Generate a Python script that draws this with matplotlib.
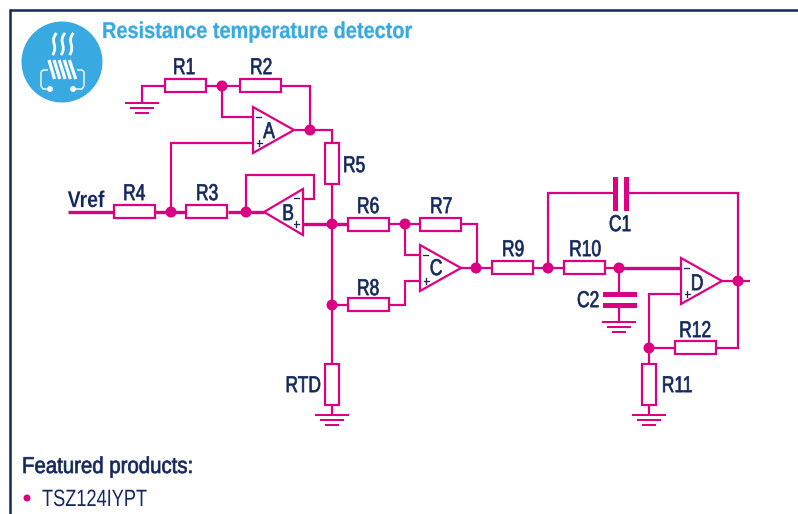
import matplotlib
matplotlib.use('Agg')
import matplotlib.pyplot as plt
import matplotlib.patheffects as pe
from matplotlib.patches import Circle, Polygon, Rectangle, PathPatch
from matplotlib.path import Path

pink = '#db0082'
navy = '#14285c'
blue = '#39a9e1'

title = 'Resistance temperature detector'
heading = 'Featured products:'
products = ['TSZ124IYPT']

# name, left, top, horizontal?
resistors = [('R1', 165, 79, True), ('R2', 240, 79, True), ('R3', 186, 205, True),
             ('R4', 114, 205, True), ('R5', 325, 143, False), ('R6', 348, 218, True),
             ('R7', 420, 218, True), ('R8', 348, 298, True), ('R9', 492, 261, True),
             ('R10', 564, 261, True), ('R11', 642, 364, False), ('R12', 675, 341, True),
             ('RTD', 325, 364, False)]
label_pos = {'R1': (184, 66), 'R2': (261, 66), 'R3': (207, 192), 'R4': (134, 192),
             'R5': (354, 164), 'R6': (368, 205), 'R7': (441, 205), 'R8': (368, 287),
             'R9': (513, 248), 'R10': (585, 248), 'R11': (677, 384), 'R12': (695, 329),
             'RTD': (303, 384), 'C1': (620, 223), 'C2': (588, 299), 'Vref': (86, 199)}

# left x, top y of each op amp, and the letter position
opamps = [('A', 253, 107, 269, 130), ('B', 303, 189, 288, 212), ('C', 420, 245, 436, 267),
          ('D', 681, 258, 697, 282)]

wires = [
    [(142, 103), (142, 86), (165, 86)], [(206, 86), (240, 86)], [(282, 86), (310, 86), (310, 130)],
    [(222, 86), (222, 117), (253, 117)], [(171, 212), (171, 143), (253, 143)],
    [(294, 130), (332, 130), (332, 143)], [(246, 212), (246, 175), (314, 175), (314, 199), (303, 199)],
    [(332, 184), (332, 364)], [(332, 405), (332, 415)], [(332, 305), (348, 305)],
    [(389, 224), (420, 224)], [(405, 224), (405, 255), (420, 255)],
    [(389, 305), (405, 305), (405, 281), (420, 281)], [(462, 224), (477, 224), (477, 268)],
    [(548, 268), (548, 193), (613, 193)], [(629, 193), (738, 193), (738, 348), (716, 348)],
    [(619, 268), (619, 294)], [(619, 305), (619, 322)], [(681, 294), (649, 294), (649, 364)],
    [(649, 348), (675, 348)], [(649, 405), (649, 415)],
    [(460, 268), (492, 268)], [(533, 268), (564, 268)], [(606, 268), (619, 268)],
    [(721, 281), (750, 281)],
]
thick_wires = [
    [(68, 212), (114, 212)], [(155, 212), (186, 212)], [(228, 212), (264, 212)],
    [(303, 224), (348, 224)], [(619, 268), (681, 268)],
]
nodes = [(222, 86), (310, 130), (171, 212), (246, 212), (332, 224), (332, 305), (405, 224),
         (476, 268), (548, 268), (619, 268), (738, 281), (649, 348)]
grounds = [(142, 103), (332, 415), (619, 322), (649, 415)]

fig = plt.figure(figsize=(7.98, 5.14), dpi=100)
ax = fig.add_axes([0, 0, 1, 1])
ax.set_xlim(0, 798)
ax.set_ylim(514, 0)
ax.axis('off')

font = ['Liberation Sans', 'DejaVu Sans']


class Narrow(pe.AbstractPathEffect):
    # no condensed font installed, so squeeze the glyphs sideways
    def __init__(self, sx, stroke=0.0, keep_center=True):
        super().__init__()
        self.sx, self.stroke, self.keep_center = sx, stroke, keep_center

    def draw_path(self, renderer, gc, tpath, affine, rgbFace=None):
        m = affine.get_matrix().copy()
        if self.keep_center:
            box = tpath.get_extents()
            m[0, 2] += m[0, 0] * (box.x0 + box.x1) / 2 * (1 - self.sx)
        m[0, 0] *= self.sx
        m[0, 1] *= self.sx
        gc0 = renderer.new_gc()
        gc0.copy_properties(gc)
        gc0.set_linewidth(self.stroke)
        if self.stroke:
            gc0.set_foreground(rgbFace)
        renderer.draw_path(gc0, tpath, matplotlib.transforms.Affine2D(m), rgbFace)
        gc0.restore()


def label(x, y, s, size=16.5, sx=0.76, stroke=0.5, color=navy, zorder=5, **kw):
    # x, y = centre of the capitals
    ax.text(x, y + size * 0.49, s, fontsize=size, color=color, family=font, ha='center',
            va='baseline', zorder=zorder, path_effects=[Narrow(sx, stroke)], **kw)


def left_text(x, y, s, size, sx, stroke=0.0, color=navy, **kw):
    # x = left end, y = baseline
    ax.text(x, y, s, fontsize=size, color=color, family=font, ha='left', va='baseline',
            zorder=5, path_effects=[Narrow(sx, stroke, keep_center=False)], **kw)


def wire(pts, lw=1.6):
    ax.plot([p[0] for p in pts], [p[1] for p in pts], color=pink, lw=lw,
            solid_joinstyle='miter', solid_capstyle='butt', zorder=2)


# frame
ax.plot([9.5, 9.5], [514, 9.5], color=navy, lw=1.8, solid_capstyle='projecting')
ax.plot([9.5, 798], [9.5, 9.5], color=navy, lw=1.8, solid_capstyle='butt')

# icon
ax.add_patch(Circle((62, 62), 40.5, color=blue, lw=0))
white = dict(color='white', solid_capstyle='butt', zorder=3)
for dx in [0, 8.5, 17]:
    verts = [(56.5 + dx, 33), (49 + dx, 42), (59 + dx, 46), (52.5 + dx, 55)]
    ax.add_patch(PathPatch(Path(verts, [Path.MOVETO, Path.CURVE4, Path.CURVE4, Path.CURVE4]),
                           fc='none', ec='white', lw=2.0, zorder=3))
for i in range(5):
    ax.plot([49 + i * 5.1, 54.5 + i * 5.3], [60, 79], lw=2.3, **white)
ax.plot([48, 43, 41, 41, 43, 50], [70, 70, 72, 86, 89, 89], lw=1, **white)
ax.plot([77, 82, 84, 84, 82, 73], [70, 70, 72, 86, 89, 89], lw=1, **white)
ax.add_patch(Circle((50, 89), 2.2, color='white', zorder=3))
ax.add_patch(Circle((73, 89), 2.2, color='white', zorder=3))

left_text(102, 38, title, 16.5, 0.87, stroke=0.2, color=blue, fontweight='bold')

for pts in wires:
    wire(pts)
for pts in thick_wires:
    wire(pts, lw=2.4)

for name, x, y, horizontal in resistors:
    w, h = (41, 13) if horizontal else (13.5, 41)
    ax.add_patch(Rectangle((x, y), w, h, fc='white', ec=pink, lw=1.6, zorder=3))
    lx, ly = label_pos[name]
    label(lx, ly, name)

for name, x, y, lx, ly in opamps:
    if name == 'B':
        tri = [(x, y), (x, y + 46), (x - 39, y + 23)]
        label(x - 6, y + 9, '\u2212', size=10.5, sx=0.9, stroke=0.2)
        label(x - 6, y + 35, '+', size=10.5, sx=0.9, stroke=0.2)
    else:
        tri = [(x, y), (x, y + 46), (x + 41, y + 23)]
        label(x + 6, y + 10, '\u2212', size=10.5, sx=0.9, stroke=0.2)
        label(x + 7, y + 36, '+', size=10.5, sx=0.9, stroke=0.2)
    ax.add_patch(Polygon(tri, closed=True, fc='white', ec=pink, lw=1.6, zorder=3))
    label(lx, ly, name)

for x, y in nodes:
    ax.add_patch(Circle((x, y), 5.5, color=pink, lw=0, zorder=4))

for x, y in grounds:
    for i, half in enumerate([17, 12, 7]):
        ax.add_patch(Rectangle((x - half, y + i * 5 - 1.3), 2 * half, 2.6, color=pink, lw=0))

# capacitors
ax.add_patch(Rectangle((613, 177), 5, 34, color=pink, lw=0))
ax.add_patch(Rectangle((624, 177), 5, 34, color=pink, lw=0))
ax.add_patch(Rectangle((603, 292), 34, 5, color=pink, lw=0))
ax.add_patch(Rectangle((603, 303), 34, 5, color=pink, lw=0))
label(*label_pos['C1'], 'C1')
label(*label_pos['C2'], 'C2')
label(*label_pos['Vref'], 'Vref', sx=0.85, fontweight='bold', stroke=0)

left_text(22, 473, heading, 16.5, 0.89, stroke=0.5)
for i, p in enumerate(products):
    ax.add_patch(Circle((27, 498 + i * 22), 3.5, color=pink, lw=0))
    left_text(42, 506 + i * 22, p, 17, 0.77)

fig.savefig('out.png', dpi=100)
